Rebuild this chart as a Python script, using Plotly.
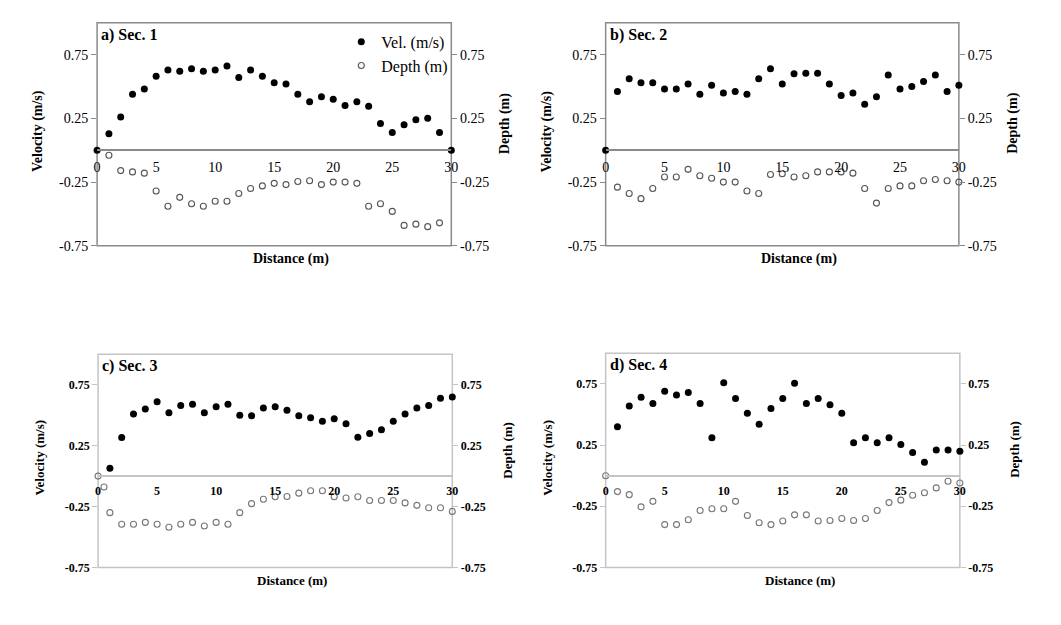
import plotly.graph_objects as go

# page body has an 8px margin in the browser; figure is sized to fit inside it
OFF = 8
W, H = 1040, 600

# ---------------- data ----------------
distance = list(range(31))
distance_1_30 = list(range(1, 31))
distance_1_29 = list(range(1, 30))
distance_c_depth = [0, 0.5] + list(range(1, 31))

vel_a = [0.0, 0.13, 0.26, 0.44, 0.48, 0.58, 0.63, 0.62, 0.64, 0.62, 0.63, 0.66, 0.57, 0.63, 0.58,
         0.53, 0.52, 0.44, 0.38, 0.42, 0.40, 0.35, 0.38, 0.345, 0.21, 0.14, 0.20, 0.24, 0.25, 0.14, 0.0]
depth_a = [-0.04, -0.16, -0.17, -0.18, -0.32, -0.44, -0.37, -0.42, -0.44, -0.40, -0.40, -0.34, -0.30,
           -0.28, -0.26, -0.27, -0.245, -0.24, -0.27, -0.25, -0.25, -0.26, -0.44, -0.42, -0.48, -0.59,
           -0.58, -0.60, -0.57]

vel_b = [0.0, 0.46, 0.56, 0.53, 0.53, 0.48, 0.48, 0.52, 0.44, 0.51, 0.45, 0.46, 0.44, 0.56, 0.64,
         0.52, 0.60, 0.605, 0.605, 0.52, 0.43, 0.45, 0.36, 0.42, 0.59, 0.48, 0.50, 0.54, 0.59, 0.46, 0.51]
depth_b = [-0.29, -0.34, -0.38, -0.30, -0.21, -0.21, -0.15, -0.20, -0.22, -0.25, -0.25, -0.32, -0.34,
           -0.19, -0.185, -0.21, -0.20, -0.17, -0.17, -0.17, -0.18, -0.30, -0.415, -0.30, -0.28, -0.28,
           -0.24, -0.23, -0.24, -0.25]

vel_c = [0.065, 0.317, 0.51, 0.55, 0.61, 0.52, 0.58, 0.59, 0.52, 0.57, 0.59, 0.50, 0.495, 0.56, 0.57,
         0.54, 0.495, 0.48, 0.45, 0.47, 0.43, 0.32, 0.35, 0.38, 0.45, 0.51, 0.56, 0.58, 0.64, 0.65]
depth_c = [0.0, -0.09, -0.30, -0.395, -0.395, -0.38, -0.395, -0.42, -0.395, -0.38, -0.41, -0.38, -0.395,
           -0.30, -0.226, -0.19, -0.17, -0.167, -0.14, -0.12, -0.12, -0.17, -0.18, -0.17, -0.20, -0.20,
           -0.20, -0.22, -0.24, -0.26, -0.26, -0.29]

vel_d = [0.40, 0.57, 0.64, 0.59, 0.69, 0.66, 0.68, 0.59, 0.31, 0.76, 0.63, 0.51, 0.42, 0.55, 0.63,
         0.755, 0.59, 0.63, 0.58, 0.51, 0.27, 0.31, 0.27, 0.31, 0.255, 0.19, 0.11, 0.21, 0.21, 0.20]
depth_d = [0.0, -0.13, -0.155, -0.255, -0.21, -0.40, -0.40, -0.36, -0.285, -0.27, -0.27, -0.21, -0.325,
           -0.385, -0.40, -0.37, -0.32, -0.32, -0.37, -0.366, -0.35, -0.366, -0.35, -0.285, -0.22, -0.20,
           -0.16, -0.14, -0.10, -0.045, -0.06]

panel_titles = ["a) Sec. 1", "b) Sec. 2", "c) Sec. 3", "d) Sec. 4"]
y_ticks = [-0.75, -0.25, 0.25, 0.75]
y_ticktext = ["-0.75", "-0.25", "0.25", "0.75"]
x_ticks = [0, 5, 10, 15, 20, 25, 30]
y_range = [-0.75, 1.0]
x_range = [0, 30]

series = [
    (distance, vel_a, distance_1_29, depth_a),
    (distance, vel_b, distance_1_30, depth_b),
    (distance_1_30, vel_c, distance_c_depth, depth_c),
    (distance_1_30, vel_d, distance, depth_d),
]

# panel pixel boxes in window coords (left, right, top, bottom)
boxes = [(94, 452, 23, 249), (608, 965, 23, 249), (95, 453, 359, 575), (608, 966, 358, 575)]

FONT = "Liberation Serif"


def px(x):
    return (x - OFF) / W


def py(y):
    return 1 - (y - OFF) / H


fig = go.Figure()
layout = dict(width=W, height=H, margin=dict(l=0, r=0, t=0, b=0),
              paper_bgcolor="white", plot_bgcolor="white",
              font=dict(family=FONT, color="black"),
              showlegend=True, annotations=[], shapes=[])

for i, ((vx, vy, dx, dy), title, box) in enumerate(zip(series, panel_titles, boxes)):
    n = i + 1
    xa = "x" if n == 1 else f"x{n}"
    yl_i = 2 * i + 1
    yr_i = 2 * i + 2
    yl = "y" if yl_i == 1 else f"y{yl_i}"
    yr = f"y{yr_i}"
    bold = i >= 2
    line_col = "#8a8a8a" if not bold else "#c4c4c4"
    open_col = "#555555" if not bold else "#777777"
    tick_w = "bold" if bold else "normal"
    tick_size = 14 if not bold else 12

    l, r, t, b = box
    xdom = [px(l), px(r)]
    ydom = [py(b), py(t)]
    zero_pos = ydom[0] + (0 - y_range[0]) / (y_range[1] - y_range[0]) * (ydom[1] - ydom[0])

    fig.add_trace(go.Scatter(x=vx, y=vy, mode="markers", name="Vel. (m/s)",
                             xaxis=xa, yaxis=yl, cliponaxis=False,
                             marker=dict(size=7, color="black", symbol="circle"),
                             showlegend=(i == 0)))
    fig.add_trace(go.Scatter(x=dx, y=dy, mode="markers", name="Depth (m)",
                             xaxis=xa, yaxis=yr, cliponaxis=False,
                             marker=dict(size=6, color=open_col, symbol="circle-open",
                                         line=dict(width=1.1, color=open_col)),
                             showlegend=(i == 0)))

    xkey = "xaxis" if n == 1 else f"xaxis{n}"
    ylkey = "yaxis" if yl_i == 1 else f"yaxis{yl_i}"
    yrkey = f"yaxis{yr_i}"

    layout[xkey] = dict(domain=xdom, range=x_range, anchor="free", position=zero_pos,
                        tickvals=x_ticks, showgrid=False, zeroline=False,
                        showline=True, linecolor=line_col, linewidth=1.5,
                        ticks="", ticklabelstandoff=4,
                        tickfont=dict(family=FONT, size=tick_size, weight=tick_w, color="black"))
    layout[ylkey] = dict(domain=ydom, range=y_range, anchor=xa, side="left",
                         tickvals=y_ticks, ticktext=y_ticktext, showgrid=False, zeroline=False,
                         showline=False, ticks="outside", ticklen=5, tickcolor=line_col,
                         tickfont=dict(family=FONT, size=tick_size, weight=tick_w, color="black"))
    layout[yrkey] = dict(domain=ydom, range=y_range, anchor=xa, overlaying=yl, side="right",
                         tickvals=y_ticks, ticktext=y_ticktext, showgrid=False, zeroline=False,
                         showline=False, ticks="outside", ticklen=5, tickcolor=line_col,
                         tickfont=dict(family=FONT, size=tick_size, weight=tick_w, color="black"))

    # plot border
    layout["shapes"].append(dict(type="rect", xref="paper", yref="paper",
                                 x0=xdom[0], x1=xdom[1], y0=ydom[0], y1=ydom[1],
                                 line=dict(color=line_col, width=1.5), layer="below"))

    # panel title
    layout["annotations"].append(dict(text=f"<b>{title}</b>", xref="paper", yref="paper",
                                      x=px(l + 2), y=py(t + 12), xanchor="left", yanchor="middle",
                                      showarrow=False, font=dict(family=FONT, size=16, color="black")))
    # axis titles
    ymid = (t + b) / 2 - 3
    ttl_size = 14 if not bold else 13
    layout["annotations"].append(dict(text="<b>Velocity (m/s)</b>", xref="paper", yref="paper",
                                      x=px(l - 59), y=py(ymid), textangle=-90, showarrow=False,
                                      xanchor="center", yanchor="middle",
                                      font=dict(family=FONT, size=ttl_size, color="black")))
    layout["annotations"].append(dict(text="<b>Depth (m)</b>", xref="paper", yref="paper",
                                      x=px(r + 55), y=py(ymid - 8), textangle=-90, showarrow=False,
                                      xanchor="center", yanchor="middle",
                                      font=dict(family=FONT, size=ttl_size, color="black")))
    layout["annotations"].append(dict(text="<b>Distance (m)</b>", xref="paper", yref="paper",
                                      x=px((l + r) / 2 + 17), y=py(b + 13), showarrow=False,
                                      xanchor="center", yanchor="middle",
                                      font=dict(family=FONT, size=ttl_size, color="black")))

layout["legend"] = dict(x=px(452 + 2), y=py(23 + 2), xanchor="right", yanchor="top",
                        bgcolor="rgba(0,0,0,0)", font=dict(family=FONT, size=16, color="black"),
                        itemwidth=30, tracegroupgap=0)

fig.update_layout(**layout)
fig.write_html("out.html")
